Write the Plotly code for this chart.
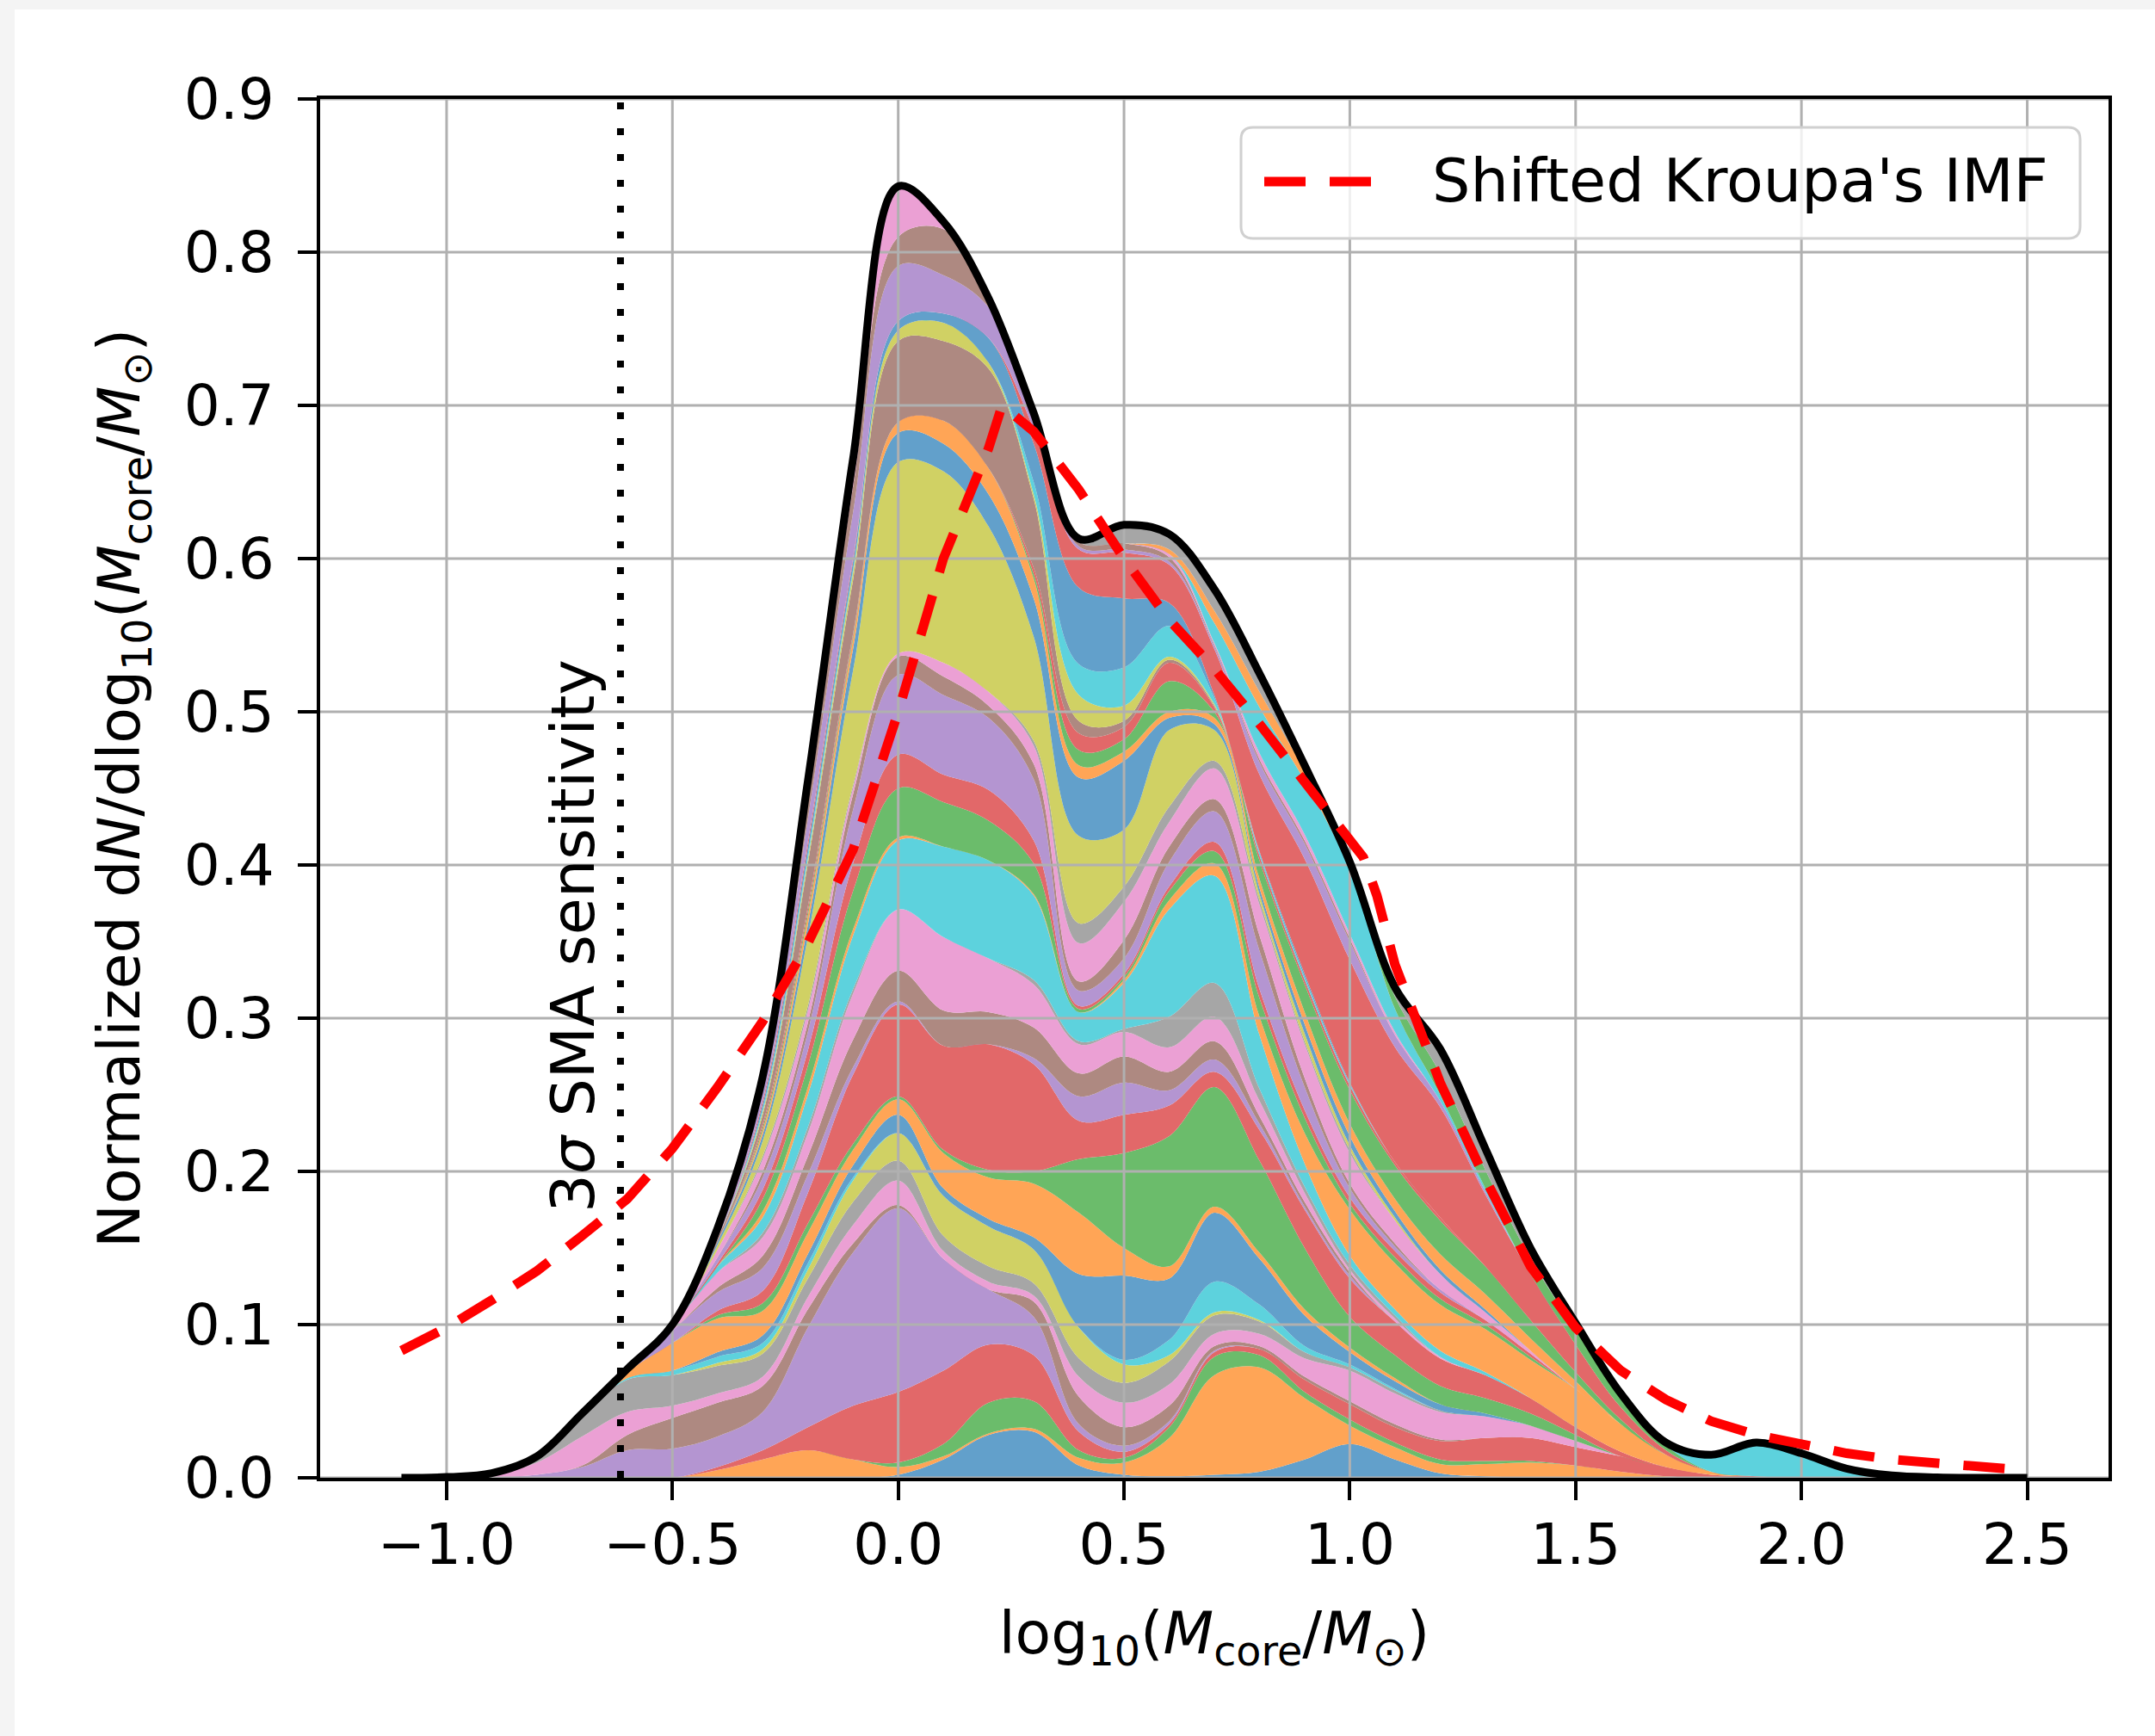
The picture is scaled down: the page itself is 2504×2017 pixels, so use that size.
import plotly.graph_objects as go

# ---------------- data ----------------
x_grid = [-1.1, -1.0, -0.9, -0.8, -0.7, -0.6, -0.5, -0.4, -0.3, -0.2, -0.1,
          0.0, 0.1, 0.2, 0.3, 0.4, 0.5, 0.6, 0.7, 0.8, 0.9, 1.0,
          1.1, 1.2, 1.3, 1.4, 1.5, 1.6, 1.7, 1.8, 1.9, 2.0, 2.1, 2.2, 2.3, 2.4, 2.5]

# total normalized dN/dlog10(M) (black curve)
total_kde = [0, .0005, .003, .014, .042, .071, .1, .163, .262, .455, .665,
             .843, .82, .77, .695, .613, .622, .616, .58, .525, .465, .402,
             .32, .28, .215, .15, .101, .055, .023, .015, .023, .016, .006, .0015, .0003, 0, 0]

# stacked contributions, bottom -> top
blue_1 = [0, 0, 0, 0, 0, 0, 0, 0, 0, 0, 0,
          .002, .012, .028, .03, .008, .002, .001, .002, .004, .012, .022,
          .012, .003, .001, 0, 0, 0, 0, 0, 0, 0, 0, 0, 0, 0, 0]
orange_1 = [0, 0, 0, 0, 0, 0, 0, .005, .012, .018, .012,
            .005, .002, .001, .002, .005, .008, .025, .065, .068, .04, .012,
            .008, .006, .008, .01, .008, .004, .001, 0, 0, 0, 0, 0, 0, 0, 0]
green_1 = [0, 0, 0, 0, 0, 0, 0, 0, 0, 0, 0,
           .003, .008, .02, .018, .005, .003, .007, .012, .008, .004, .004,
           .003, .003, .002, .001, 0, 0, 0, 0, 0, 0, 0, 0, 0, 0, 0]
red_1 = [0, 0, 0, 0, 0, 0, 0, .002, .006, .015, .035,
         .046, .048, .038, .03, .012, .004, .002, .003, .004, .008, .01,
         .01, .012, .015, .015, .012, .01, .006, .002, .001, 0, 0, 0, 0, 0, 0]
purple_1 = [0, 0, .0005, .002, .007, .018, .019, .02, .025, .065, .1,
            .12, .073, .036, .025, .005, .004, .002, .001, 0, 0, 0,
            0, 0, 0, 0, 0, 0, 0, 0, 0, 0, 0, 0, 0, 0, 0]
brown_1 = [0, 0, 0, 0, .001, .01, .02, .022, .017, .012, .006,
           .002, 0, 0, .01, .018, .012, .01, .003, .002, .002, .002,
           .002, .001, 0, 0, 0, 0, 0, 0, 0, 0, 0, 0, 0, 0, 0]
pink_1 = [0, .0003, .0015, .008, .019, .015, .008, .006, .006, .008, .012,
          .016, .005, .005, .004, .013, .016, .014, .008, .008, .012, .02,
          .02, .018, .014, .008, .004, 0, 0, 0, 0, 0, 0, 0, 0, 0, 0]
grey_1 = [0, .0002, .001, .004, .015, .021, .02, .018, .015, .012, .015,
          .013, .01, .01, .008, .012, .013, .015, .012, .008, .004, .002,
          .002, .001, 0, 0, 0, 0, 0, 0, 0, 0, 0, 0, 0, 0, 0]
olive_1 = [0, 0, 0, 0, 0, 0, 0, .002, .003, .006, .014,
           .018, .026, .026, .022, .02, .012, .004, .002, .001, 0, 0,
           0, 0, 0, 0, 0, 0, 0, 0, 0, 0, 0, 0, 0, 0, 0]
cyan_1 = [0, 0, 0, 0, 0, .001, .003, .004, .004, .004, .002,
          0, 0, 0, 0, 0, .003, .01, .02, .01, .004, .002,
          .001, 0, 0, 0, 0, 0, 0, 0, 0, 0, 0, 0, 0, 0, 0]
blue_2 = [0, 0, 0, 0, 0, 0, 0, .003, .005, .006, .008,
          .012, .005, .005, .008, .035, .055, .04, .045, .03, .02, .008,
          .005, .004, .002, 0, 0, 0, 0, 0, 0, 0, 0, 0, 0, 0, 0]
orange_2 = [0, 0, 0, 0, 0, .004, .018, .022, .016, .014, .01,
            .01, .023, .027, .035, .04, .018, .008, .004, .004, .004, .003,
            .002, 0, 0, 0, 0, 0, 0, 0, 0, 0, 0, 0, 0, 0, 0]
green_2 = [0, 0, 0, 0, 0, 0, 0, .002, .005, .006, .004,
           .002, .002, .005, .008, .035, .062, .085, .078, .06, .04, .02,
           .015, .012, .01, .008, .004, 0, 0, 0, 0, 0, 0, 0, 0, 0, 0]
red_2 = [0, 0, 0, 0, 0, 0, 0, .003, .008, .02, .045,
         .06, .068, .082, .07, .025, .025, .02, .01, .02, .025, .025,
         .022, .018, .015, .01, .005, .003, 0, 0, 0, 0, 0, 0, 0, 0, 0]
purple_2 = [0, 0, 0, 0, 0, 0, .008, .012, .015, .012, .005,
            .002, 0, 0, .004, .016, .021, .01, .008, .004, .002, .002,
            0, 0, 0, 0, 0, 0, 0, 0, 0, 0, 0, 0, 0, 0, 0]
brown_2 = [0, 0, 0, 0, 0, 0, 0, .003, .008, .012, .018,
           .02, .023, .021, .02, .015, .017, .012, .012, .005, .003, .002,
           0, 0, 0, 0, 0, 0, 0, 0, 0, 0, 0, 0, 0, 0, 0]
pink_2 = [0, 0, 0, 0, 0, .002, .004, .01, .012, .015, .03,
          .04, .048, .035, .028, .019, .016, .016, .016, .01, .006, .002,
          .002, .001, 0, 0, 0, 0, 0, 0, 0, 0, 0, 0, 0, 0, 0]
grey_2 = [0, 0, 0, 0, 0, 0, 0, 0, .003, .004, .003,
          0, 0, 0, .003, .002, .002, .02, .022, .008, .004, .003,
          .002, 0, 0, 0, 0, 0, 0, 0, 0, 0, 0, 0, 0, 0, 0]
cyan_2 = [0, 0, 0, 0, 0, 0, 0, .004, .01, .021, .035,
          .045, .059, .064, .055, .019, .03, .07, .07, .035, .015, .006,
          .004, .004, .002, 0, 0, 0, 0, 0, 0, 0, 0, 0, 0, 0, 0]
orange_3 = [0, 0, 0, 0, 0, 0, 0, 0, .004, .005, .004,
            .002, 0, 0, .001, 0, .002, .006, .008, .012, .02, .03,
            .03, .03, .028, .025, .025, .018, .008, .002, 0, 0, 0, 0, 0, 0, 0]
green_3 = [0, 0, 0, 0, 0, 0, 0, 0, .008, .014, .025,
           .032, .029, .026, .02, .002, .002, .006, .008, .012, .01, .004,
           .004, .004, .003, .002, 0, 0, 0, 0, 0, 0, 0, 0, 0, 0, 0]
red_3 = [0, 0, 0, 0, 0, 0, 0, .002, .006, .01, .018,
         .022, .018, .02, .015, .002, .002, .003, .006, .006, .005, .004,
         .004, .004, .003, .002, 0, 0, 0, 0, 0, 0, 0, 0, 0, 0, 0]
purple_3 = [0, 0, 0, 0, 0, 0, 0, .004, .008, .012, .035,
            .052, .052, .047, .04, .01, .01, .016, .02, .025, .015, .006,
            .003, .002, 0, 0, 0, 0, 0, 0, 0, 0, 0, 0, 0, 0, 0]
brown_3 = [0, 0, 0, 0, 0, 0, 0, 0, .004, .006, .01,
           .012, .012, .008, .01, .006, .012, .01, .008, .01, .006, .003,
           .002, 0, 0, 0, 0, 0, 0, 0, 0, 0, 0, 0, 0, 0, 0]
pink_3 = [0, 0, 0, 0, 0, 0, 0, .005, .008, .008, .004,
          .002, .009, .009, .012, .025, .025, .016, .02, .02, .022, .02,
          .015, .01, .005, .002, 0, 0, 0, 0, 0, 0, 0, 0, 0, 0, 0]
grey_3 = [0, 0, 0, 0, 0, 0, 0, 0, .002, .003, .002,
          0, 0, 0, .003, .013, .01, .01, .005, .003, .002, .002,
          0, 0, 0, 0, 0, 0, 0, 0, 0, 0, 0, 0, 0, 0, 0]
olive_3 = [0, 0, 0, 0, 0, 0, 0, .003, .01, .045, .075,
           .125, .125, .108, .068, .057, .037, .05, .02, .004, .005, .003,
           .002, 0, 0, 0, 0, 0, 0, 0, 0, 0, 0, 0, 0, 0, 0]
blue_3 = [0, 0, 0, 0, 0, 0, 0, .002, .004, .008, .014,
          .019, .018, .021, .025, .038, .045, .008, .004, .004, .006, .006,
          .004, .003, .002, 0, 0, 0, 0, 0, 0, 0, 0, 0, 0, 0, 0]
orange_4 = [0, 0, 0, 0, 0, 0, 0, 0, .003, .006, .006,
            .007, .015, .017, .013, .008, .006, .004, .004, .006, .008, .008,
            .008, .01, .01, .008, .005, 0, 0, 0, 0, 0, 0, 0, 0, 0, 0]
green_4 = [0, 0, 0, 0, 0, 0, 0, 0, .002, .003, .002,
           0, 0, 0, .003, .01, .008, .02, .004, .012, .018, .022,
           .022, .022, .018, .012, .006, .003, 0, 0, 0, 0, 0, 0, 0, 0, 0]
red_4 = [0, 0, 0, 0, 0, 0, 0, 0, .002, .003, .002,
         0, 0, 0, .004, .011, .008, .012, .003, .003, .003, .003,
         .002, .002, 0, 0, 0, 0, 0, 0, 0, 0, 0, 0, 0, 0, 0]
brown_4 = [0, 0, 0, 0, 0, 0, 0, .002, .006, .028, .035,
           .053, .052, .065, .045, .008, .004, .002, .001, 0, 0, 0,
           0, 0, 0, 0, 0, 0, 0, 0, 0, 0, 0, 0, 0, 0, 0]
olive_4 = [0, 0, 0, 0, 0, 0, 0, 0, .002, .003, .005,
           .007, .012, .004, .003, .017, .01, .002, .001, 0, 0, 0,
           0, 0, 0, 0, 0, 0, 0, 0, 0, 0, 0, 0, 0, 0, 0]
cyan_4 = [0, 0, 0, 0, 0, 0, 0, 0, .002, .003, .002,
          0, 0, 0, .008, .02, .025, .02, .004, .002, .002, .001,
          0, 0, 0, 0, 0, 0, 0, 0, 0, 0, 0, 0, 0, 0, 0]
blue_4 = [0, 0, 0, 0, 0, 0, 0, 0, .003, .005, .005,
          .006, .006, .016, .025, .05, .045, .015, .002, .001, .002, .001,
          0, 0, 0, 0, 0, 0, 0, 0, 0, 0, 0, 0, 0, 0, 0]
red_5 = [0, 0, 0, 0, 0, 0, 0, 0, .002, .003, .002,
         0, 0, 0, .01, .025, .03, .025, .03, .05, .075, .08,
         .075, .072, .047, .03, .018, .008, .003, 0, 0, 0, 0, 0, 0, 0, 0]
purple_5 = [0, 0, 0, 0, 0, 0, 0, .002, .006, .015, .03,
            .036, .025, .02, .006, .002, .002, .002, .002, .008, .01, .012,
            .008, .004, .002, 0, 0, 0, 0, 0, 0, 0, 0, 0, 0, 0, 0]
brown_5 = [0, 0, 0, 0, 0, 0, 0, .001, .004, .012, .017,
           .019, .03, .006, .004, .003, .004, .003, .001, .002, .002, .002,
           0, 0, 0, 0, 0, 0, 0, 0, 0, 0, 0, 0, 0, 0, 0]
pink_5 = [0, 0, 0, 0, 0, 0, 0, .004, .006, .013, .018,
          .033, .005, 0, 0, 0, 0, .002, .001, .004, .004, .003,
          .002, 0, 0, 0, 0, 0, 0, 0, 0, 0, 0, 0, 0, 0, 0]
cyan_5 = [0, 0, 0, 0, 0, 0, 0, 0, 0, 0, 0,
          0, 0, 0, 0, 0, 0, 0, .013, .03, .035, .042,
          .015, .004, .002, 0, 0, 0, 0, 0, 0, 0, 0, 0, 0, 0, 0]
orange_5 = [0, 0, 0, 0, 0, 0, 0, 0, 0, 0, 0,
            0, 0, 0, 0, 0, 0, .003, .008, .01, .006, .002,
            0, 0, 0, 0, 0, 0, 0, 0, 0, 0, 0, 0, 0, 0, 0]
green_6 = [0, 0, 0, 0, 0, 0, 0, 0, 0, 0, 0,
           0, 0, 0, 0, 0, 0, 0, 0, 0, 0, .001,
           .008, .014, .012, .01, .01, .007, .003, 0, 0, 0, 0, 0, 0, 0, 0]
grey_6 = [0, 0, 0, 0, 0, 0, 0, 0, 0, 0, 0,
          0, 0, 0, 0, .002, .012, .01, .014, .012, .004, .002,
          .006, .016, .014, .007, .004, .002, 0, 0, 0, 0, 0, 0, 0, 0, 0]
cyan_6 = [0, 0, 0, 0, 0, 0, 0, 0, 0, 0, 0,
          0, 0, 0, 0, 0, 0, 0, 0, 0, 0, 0,
          0, 0, 0, 0, 0, 0, .002, .011, .022, .016, .006, .0015, .0003, 0, 0]

# shifted Kroupa IMF (red dashed curve)
imf_x = [-1.1, -1.0, -0.9, -0.8, -0.7, -0.6, -0.5, -0.4, -0.3, -0.2, -0.1, 0.0, 0.1, 0.2, 0.23,
         0.3, 0.4, 0.5, 0.6, 0.7, 0.8, 0.9, 0.95, 1.0, 1.03, 1.06, 1.1, 1.2, 1.3, 1.4, 1.5,
         1.6, 1.7, 1.8, 1.9, 2.0, 2.1, 2.2, 2.3, 2.4, 2.45]
imf_y = [0.083, 0.098, 0.116, 0.135, 0.158, 0.182, 0.215, 0.255, 0.298, 0.349, 0.41, 0.5, 0.6, 0.672, 0.7,
         0.683, 0.645, 0.6, 0.56, 0.528, 0.492, 0.455, 0.435, 0.417, 0.405, 0.38, 0.335, 0.258, 0.195, 0.138, 0.098,
         0.07, 0.051, 0.037, 0.028, 0.022, 0.016, 0.012, 0.0093, 0.0068, 0.006]

sma_sensitivity = -0.615
x_ticks = [-1.0, -0.5, 0.0, 0.5, 1.0, 1.5, 2.0, 2.5]
y_ticks = [0.0, 0.1, 0.2, 0.3, 0.4, 0.5, 0.6, 0.7, 0.8, 0.9]

# ---------------- styles ----------------
C = {"blue": "#62a0cb", "orange": "#ffa556", "green": "#6bbc6b", "red": "#e26869",
     "purple": "#b495d1", "brown": "#ae8981", "pink": "#eba0d4", "grey": "#a6a6a6",
     "olive": "#d0d164", "cyan": "#5dd2dd"}

layers = [
    ("blue", blue_1), ("orange", orange_1), ("green", green_1), ("red", red_1),
    ("purple", purple_1), ("brown", brown_1), ("pink", pink_1), ("grey", grey_1),
    ("olive", olive_1), ("cyan", cyan_1), ("blue", blue_2), ("orange", orange_2),
    ("green", green_2), ("red", red_2), ("purple", purple_2), ("brown", brown_2),
    ("pink", pink_2), ("grey", grey_2), ("cyan", cyan_2), ("orange", orange_3),
    ("green", green_3), ("red", red_3), ("purple", purple_3), ("brown", brown_3),
    ("pink", pink_3), ("grey", grey_3), ("olive", olive_3), ("blue", blue_3),
    ("orange", orange_4), ("green", green_4), ("red", red_4), ("brown", brown_4),
    ("olive", olive_4), ("cyan", cyan_4), ("blue", blue_4), ("red", red_5),
    ("purple", purple_5), ("brown", brown_5), ("pink", pink_5), ("cyan", cyan_5),
    ("orange", orange_5), ("green", green_6), ("grey", grey_6), ("cyan", cyan_6),
]
bad = [(i, len(v)) for i, (_, v) in enumerate(layers) if len(v) != len(x_grid)]
if bad or len(total_kde) != len(x_grid) or len(imf_x) != len(imf_y):
    raise ValueError(f"length mismatch: {bad}, total {len(total_kde)}, imf {len(imf_x)}/{len(imf_y)}")

FONT = "DejaVu Sans"
W, H = 2504, 2017
PX_L, PX_R, PX_T, PX_B = 372, 2450, 115, 1717


def xp(px):
    return (px - PX_L) / (PX_R - PX_L)


def yp(py):
    return (PX_B - py) / (PX_B - PX_T)


fig = go.Figure()

for cname, vals in layers:
    fig.add_trace(go.Scatter(
        x=x_grid, y=vals, mode="lines", stackgroup="kde",
        line=dict(width=0, shape="spline", color=C[cname]),
        fillcolor=C[cname], hoverinfo="skip", showlegend=False))

# grid drawn above the filled areas (as in the reference)
gx, gy = [], []
for t in x_ticks:
    gx += [t, t, None]
    gy += [0, 0.9, None]
for t in y_ticks:
    gx += [-1.28, 2.68, None]
    gy += [t, t, None]
fig.add_trace(go.Scatter(x=gx, y=gy, mode="lines", line=dict(color="#b0b0b0", width=3),
                         hoverinfo="skip", showlegend=False))

fig.add_trace(go.Scatter(x=x_grid, y=total_kde, mode="lines",
                         line=dict(color="black", width=9, shape="spline"),
                         hoverinfo="skip", showlegend=False))

fig.add_trace(go.Scatter(x=imf_x, y=imf_y, mode="lines", name="Shifted Kroupa's IMF",
                         line=dict(color="#ff0000", width=11, dash="48px,28px"),
                         hoverinfo="skip", showlegend=False))

fig.add_trace(go.Scatter(x=[sma_sensitivity, sma_sensitivity], y=[0, 0.9], mode="lines",
                         line=dict(color="black", width=8, dash="8px,22px"),
                         hoverinfo="skip", showlegend=False))

axis_common = dict(showline=True, linecolor="black", linewidth=4, mirror=True,
                   ticks="outside", ticklen=22, tickwidth=4, tickcolor="black",
                   showgrid=False, zeroline=False,
                   tickfont=dict(family=FONT, size=66, color="black"))

fig.update_layout(
    width=W, height=H,
    margin=dict(l=PX_L, r=W - PX_R, t=PX_T, b=H - PX_B, autoexpand=False),
    paper_bgcolor="#f4f4f4", plot_bgcolor="white",
    font=dict(family=FONT, color="black"),
    showlegend=False,
    xaxis=dict(range=[-1.28, 2.68], tickvals=x_ticks, tickformat=".1f",
               ticklabelstandoff=-5,
               title=dict(text="log<sub>10</sub>(<i>M</i><sub>core</sub>/<i>M</i><sub>⊙</sub>)",
                          font=dict(family=FONT, size=68), standoff=42),
               **axis_common),
    yaxis=dict(range=[0, 0.9], tickvals=y_ticks, tickformat=".1f",
               ticklabelstandoff=14,
               title=dict(text="Normalized d<i>N</i>/dlog<sub>10</sub>(<i>M</i><sub>core</sub>/<i>M</i><sub>⊙</sub>)",
                          font=dict(family=FONT, size=68), standoff=30),
               **axis_common),
)

# white page with a thin grey frame on the left/top
fig.add_shape(type="rect", xref="paper", yref="paper", layer="below",
              x0=xp(17), x1=xp(W + 5), y0=yp(H + 5), y1=yp(11),
              line=dict(width=0), fillcolor="white")

# annotation of the SMA sensitivity line
fig.add_annotation(x=-0.72, y=0.354, xref="x", yref="y", text="3<i>σ</i> SMA sensitivity",
                   textangle=-90, showarrow=False,
                   font=dict(family=FONT, size=70, color="black"))

# legend box (rounded, semi-transparent like matplotlib)
x0, x1, y0, y1, r = 1442, 2417, 148, 277, 14
path = (f"M {xp(x0 + r)},{yp(y0)} L {xp(x1 - r)},{yp(y0)} Q {xp(x1)},{yp(y0)} {xp(x1)},{yp(y0 + r)} "
        f"L {xp(x1)},{yp(y1 - r)} Q {xp(x1)},{yp(y1)} {xp(x1 - r)},{yp(y1)} "
        f"L {xp(x0 + r)},{yp(y1)} Q {xp(x0)},{yp(y1)} {xp(x0)},{yp(y1 - r)} "
        f"L {xp(x0)},{yp(y0 + r)} Q {xp(x0)},{yp(y0)} {xp(x0 + r)},{yp(y0)} Z")
fig.add_shape(type="path", path=path, xref="paper", yref="paper", layer="above",
              fillcolor="rgba(255,255,255,0.8)", line=dict(color="#d0d0d0", width=3))
fig.add_shape(type="line", xref="paper", yref="paper", layer="above",
              x0=xp(1469), x1=xp(1597), y0=yp(211), y1=yp(211),
              line=dict(color="#ff0000", width=11, dash="48px,28px"))
fig.add_annotation(x=xp(1662), y=yp(210), xref="paper", yref="paper",
                   text="Shifted Kroupa's IMF", showarrow=False,
                   xanchor="left", yanchor="middle",
                   font=dict(family=FONT, size=70, color="black"))

fig.write_html("out.html")
